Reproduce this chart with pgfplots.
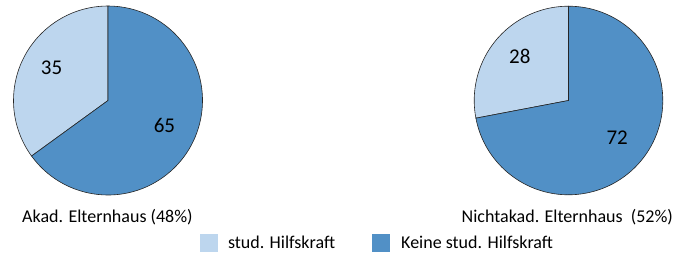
\documentclass[border=0pt]{standalone}
\usepackage{fontspec}
\setmainfont{Carlito}
\usepackage{pgfplots}
\usepackage{pgfplotstable}
\pgfplotsset{compat=1.18}
\definecolor{lightb}{HTML}{BDD6EE}
\definecolor{darkb}{HTML}{5190C6}
\tikzset{numlab/.style={font=\fontsize{21}{24}\selectfont, yshift=3.5pt}}
\pgfplotstableread{
cx cy r stud keine
108 153.5 94.5 35 65
568.5 153.5 94.3 28 72
}\piedata
\pgfplotstablegetelem{0}{cx}\of\piedata \edef\Acx{\pgfplotsretval}
\pgfplotstablegetelem{0}{cy}\of\piedata \edef\Acy{\pgfplotsretval}
\pgfplotstablegetelem{0}{r}\of\piedata \edef\Ar{\pgfplotsretval}
\pgfplotstablegetelem{0}{stud}\of\piedata \edef\As{\pgfplotsretval}
\pgfplotstablegetelem{0}{keine}\of\piedata \edef\Ak{\pgfplotsretval}
\pgfplotstablegetelem{1}{cx}\of\piedata \edef\Bcx{\pgfplotsretval}
\pgfplotstablegetelem{1}{cy}\of\piedata \edef\Bcy{\pgfplotsretval}
\pgfplotstablegetelem{1}{r}\of\piedata \edef\Br{\pgfplotsretval}
\pgfplotstablegetelem{1}{stud}\of\piedata \edef\Bs{\pgfplotsretval}
\pgfplotstablegetelem{1}{keine}\of\piedata \edef\Bk{\pgfplotsretval}
\pgfmathsetmacro\Aend{90+3.6*\As}
\pgfmathsetmacro\Amidone{90+1.8*\As}
\pgfmathsetmacro\Amidtwo{\Aend+1.8*\Ak}
\pgfmathsetmacro\Alr{0.67*\Ar}
\pgfmathsetmacro\Bend{90+3.6*\Bs}
\pgfmathsetmacro\Bmidone{90+1.8*\Bs}
\pgfmathsetmacro\Bmidtwo{\Bend+1.8*\Bk}
\pgfmathsetmacro\Blr{0.67*\Br}
\begin{document}
\begin{tikzpicture}
\begin{axis}[
  scale only axis, width=674pt, height=254pt,
  xmin=0, xmax=674, ymin=0, ymax=254,
  hide axis, clip=false,
  legend image code/.code={\fill[#1] (0pt,-9pt) rectangle (18pt,9pt);},
  legend style={at={(axis cs:200,11)}, anchor=west, draw=none, fill=none,
    inner sep=0pt, outer sep=0pt, legend columns=2,
    font=\fontsize{18}{21}\selectfont,
    /tikz/every even column/.append style={column sep=37pt},
    nodes={inner sep=0pt, outer sep=0pt}},
  legend cell align=left,
]
\path (axis cs:0,0) rectangle (axis cs:674,254);
\addlegendimage{fill=lightb, draw=none}
\addlegendentry{\hspace{10pt}stud. Hilfskraft}
\addlegendimage{fill=darkb, draw=none}
\addlegendentry{\hspace{11pt}Keine stud. Hilfskraft}
% left pie
\filldraw[fill=lightb, draw=black!85, line width=0.6pt] (axis cs:\Acx,\Acy) -- ++(90:\Ar pt) arc[start angle=90, end angle=\Aend, radius=\Ar pt] -- cycle;
\filldraw[fill=darkb, draw=black!85, line width=0.6pt] (axis cs:\Acx,\Acy) -- ++(\Aend:\Ar pt) arc[start angle=\Aend, end angle=450, radius=\Ar pt] -- cycle;
\node[numlab] at ([shift={(\Amidone:\Alr pt)}]axis cs:\Acx,\Acy) {\As};
\node[numlab] at ([shift={(\Amidtwo:\Alr pt)}]axis cs:\Acx,\Acy) {\Ak};
% right pie
\filldraw[fill=lightb, draw=black!85, line width=0.6pt] (axis cs:\Bcx,\Bcy) -- ++(90:\Br pt) arc[start angle=90, end angle=\Bend, radius=\Br pt] -- cycle;
\filldraw[fill=darkb, draw=black!85, line width=0.6pt] (axis cs:\Bcx,\Bcy) -- ++(\Bend:\Br pt) arc[start angle=\Bend, end angle=450, radius=\Br pt] -- cycle;
\node[numlab] at ([shift={(\Bmidone:\Blr pt)}]axis cs:\Bcx,\Bcy) {\Bs};
\node[numlab] at ([shift={(\Bmidtwo:\Blr pt)}]axis cs:\Bcx,\Bcy) {\Bk};
% group labels
\node[anchor=base west, inner sep=0pt, font=\fontsize{18}{21}\selectfont] at (axis cs:22,31.5) {Akad. Elternhaus (48\%)};
\node[anchor=base west, inner sep=0pt, font=\fontsize{18}{21}\selectfont] at (axis cs:461.5,31.5) {Nichtakad. Elternhaus\ \ (52\%)};
\end{axis}
\end{tikzpicture}
\end{document}
